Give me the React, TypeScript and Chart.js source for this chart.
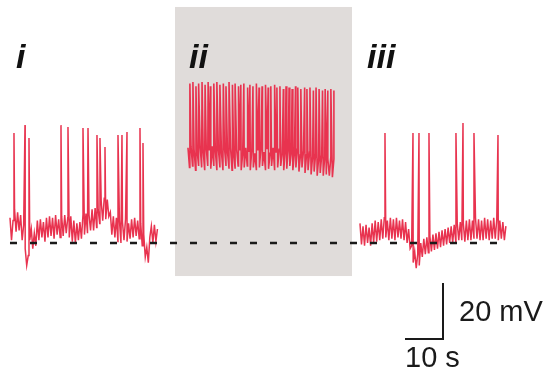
import React, { useEffect, useRef } from "react";
import { Chart, registerables } from "chart.js";

Chart.register(...registerables);

// ---- data (time in s, membrane potential in mV) ----
const SAMPLE_DT = 0.4;
const REST_MV = -60;

const traceIStart = 0;
const traceIBase = [
  -51, -59, -52,
  -48, -56, -49, -55.5, -50,
  -59, -53.5,
  -62, -68, -64.5, -59,
  -55, -62, -56.5, -61,
  -52, -59, -51.5, -58, -52.5, -59.5, -51,
  -58, -50.5, -57.5, -51, -58.5, -50, -57, -51.5, -58, -50.5,
  -57.5, -50, -56.5, -51, -58, -50.5,
  -59.5, -52, -60, -53, -59, -52.5, -58.5,
  -50, -57, -49.5, -56.5, -50, -55.5,
  -48, -55.5, -47.5, -54.5, -48, -53,
  -45, -52, -44, -51.5, -44.5, -50.5,
  -49, -57, -50.5, -58, -51,
  -59.5, -52, -60, -52.5, -59, -51.5, -59.5, -53, -58.5, -51.5, -58, -51, -57.5, -52, -58.5,
  -53, -61, -57, -65, -61.5, -67,
  -58, -54, -60, -53.5, -59.5, -55,
];
const traceISpikeTimes = [1.05, 3.95, 5.0, 13.42, 15.26, 19.21, 20.53, 22.89, 23.68, 25.0, 28.42, 29.47, 30.79, 34.21, 35.0];
const traceISpikePeaks = [-20.7, -17.9, -22.5, -17.9, -18.6, -18.9, -18.9, -21.4, -22.5, -25.7, -21.4, -21.4, -20.4, -18.9, -24.3];

const traceIIStart = 46.84;
const traceIIBase = [
  -26, -33, -25.5, -32.5, -26.5, -34, -27, -32.5, -25.5, -33,
  -27, -34, -26, -32.5, -27, -33.5, -25.5, -32.5, -27, -34,
  -26.5, -33, -27.5, -34, -26, -32.5, -27.5, -33.5, -26, -34,
  -27.5, -33.5, -26.5, -32.5, -27, -34, -28, -33, -26, -32.5,
  -27.5, -34, -26.5, -33, -28, -34, -27, -33, -26, -32.5,
  -27.5, -34, -26.5, -33.5, -28, -32.5, -26, -34, -27.5, -33,
  -26.5, -32.5, -28, -34, -27, -33.5, -26, -32.5, -27.5, -34,
  -28, -33, -26.5, -34.5, -28.5, -33, -27, -35, -28.5, -34,
  -27.5, -35.5, -29, -34.5, -28, -36, -29.5, -35, -28.5, -36,
  -29, -35.5, -30, -36, -29, -36.5, -30,
];
const traceIISpikeTimes = [
  0.5, 1.3, 2.1, 2.8, 3.7, 4.5, 5.3, 5.9, 6.8, 7.6,
  8.4, 9.3, 10.0, 10.8, 11.7, 12.4, 13.3, 13.9, 14.7, 15.7,
  16.3, 17.1, 18.0, 18.7, 19.5, 20.4, 21.1, 21.8, 22.8, 23.4,
  24.2, 25.1, 25.8, 26.6, 27.4, 28.3, 28.9, 29.7, 30.7, 31.3,
  32.1, 33.0, 33.7, 34.5, 35.4, 36.1, 36.8, 37.6, 38.4,
];
const traceIISpikePeaks = [
  -3, -2.5, -4, -3, -2.5, -3.5, -2.5, -4, -3, -2.5,
  -3.5, -3, -4, -2.5, -3.5, -3, -4, -3.5, -3, -4.5,
  -3.5, -4, -3, -4.5, -4, -3.5, -4.5, -4, -3.5, -4.5,
  -4, -5, -4, -4.5, -5, -4, -4.5, -5, -4.5, -5,
  -4.5, -5.5, -4.5, -5, -5.5, -5, -5.5, -5, -5.5,
];

const traceIIIStart = 92.1;
const traceIIIBase = [
  -53, -60.5, -54, -61, -53.5, -60, -54.5, -61, -53, -60,
  -52, -59.5, -52.5, -59, -51.5, -58.5, -51, -58, -52, -59,
  -51, -58.5, -51.5, -59, -51, -58, -52, -58.5, -51.5, -59,
  -52.5, -60, -55, -62, -61, -67, -63, -69, -64, -68,
  -60, -65, -58.5, -64, -58, -63.5, -57.5, -63, -57, -62.5,
  -56.5, -62, -56, -61.5, -55.5, -61, -55, -60.5, -54.5, -60,
  -54, -60, -53.5, -59.5, -53, -59, -52.5, -59, -53, -59.5,
  -52, -59, -51.5, -59, -52, -58.5, -51, -58.5, -51.5, -59,
  -52, -59, -51, -58.5, -51.5, -59, -52, -58.5, -51, -58.5,
  -51.5, -59, -52, -58.5, -52.5, -59, -54,
];
const traceIIISpikeTimes = [6.58, 13.95, 15.53, 18.16, 25.26, 27.11, 30.0, 36.32];
const traceIIISpikePeaks = [-20.7, -20.7, -20.7, -20.7, -20.7, -17.1, -20.7, -21.4];

const restLineTimes = [0, 130.3];
const restLineValues = [REST_MV, REST_MV];

const scaleBarTimes = [103.95, 113.95, 113.95];
const scaleBarValues = [-94.3, -94.3, -74.3];

const shadeTimes = [43.42, 90.0];
const shadeValues = [-71.8, 24.3];

const traceLabels = ["i", "ii", "iii"];
const scaleLabels = ["20 mV", "10 s"];

// ---- view window ----
const X_MIN = -2.63;
const X_MAX = 143.16;
const Y_MIN = -105.36;
const Y_MAX = 26.79;

function buildTrace(start: number, base: number[], spikeT: number[], spikeV: number[]) {
  const pts = base.map((v, i) => ({ x: start + i * SAMPLE_DT, y: v }));
  spikeT.forEach((t, i) => pts.push({ x: start + t, y: spikeV[i] }));
  pts.sort((a, b) => a.x - b.x);
  return pts;
}

const TRACE_COLOR = "#e8334f";

const overlayPlugin = {
  id: "overlay",
  beforeDatasetsDraw(chart: any) {
    const { ctx, scales } = chart;
    const x0 = scales.x.getPixelForValue(shadeTimes[0]);
    const x1 = scales.x.getPixelForValue(shadeTimes[1]);
    const y0 = scales.y.getPixelForValue(shadeValues[1]);
    const y1 = scales.y.getPixelForValue(shadeValues[0]);
    ctx.save();
    ctx.fillStyle = "#e0dcda";
    ctx.fillRect(x0, y0, x1 - x0, y1 - y0);
    ctx.restore();
  },
  afterDraw(chart: any) {
    const { ctx } = chart;
    ctx.save();
    ctx.fillStyle = "#111111";
    ctx.textBaseline = "alphabetic";
    ctx.font = 'italic bold 34px "Liberation Sans", Arial, sans-serif';
    const labelPos = [
      [16, 68],
      [189, 68],
      [367, 68],
    ];
    traceLabels.forEach((t, i) => ctx.fillText(t, labelPos[i][0], labelPos[i][1]));
    ctx.font = '29px "Liberation Sans", Arial, sans-serif';
    ctx.fillStyle = "#1a1a1a";
    ctx.fillText(scaleLabels[0], 459, 321);
    ctx.fillText(scaleLabels[1], 405, 367);
    ctx.restore();
  },
};

export default function App() {
  const ref = useRef<HTMLCanvasElement | null>(null);
  useEffect(() => {
    if (!ref.current) return;
    const traceDs = (data: any[], w: number) => ({
      data,
      borderColor: TRACE_COLOR,
      borderWidth: w,
      pointRadius: 0,
      tension: 0,
      order: 2,
    });
    const chart = new Chart(ref.current, {
      type: "line",
      data: {
        datasets: [
          {
            data: restLineTimes.map((t, i) => ({ x: t, y: restLineValues[i] })),
            borderColor: "#1a1a1a",
            borderWidth: 2.5,
            borderDash: [7, 13],
            pointRadius: 0,
            order: 0,
          },
          {
            data: scaleBarTimes.map((t, i) => ({ x: t, y: scaleBarValues[i] })),
            borderColor: "#1a1a1a",
            borderWidth: 2,
            pointRadius: 0,
            order: 0,
          },
          traceDs(buildTrace(traceIStart, traceIBase, traceISpikeTimes, traceISpikePeaks), 1.5),
          traceDs(buildTrace(traceIIStart, traceIIBase, traceIISpikeTimes, traceIISpikePeaks), 1.6),
          traceDs(buildTrace(traceIIIStart, traceIIIBase, traceIIISpikeTimes, traceIIISpikePeaks), 1.5),
        ],
      },
      options: {
        responsive: false,
        animation: false,
        layout: { padding: 0 },
        plugins: { legend: { display: false }, tooltip: { enabled: false } },
        scales: {
          x: { type: "linear", min: X_MIN, max: X_MAX, display: false },
          y: { type: "linear", min: Y_MIN, max: Y_MAX, display: false },
        },
      },
      plugins: [overlayPlugin],
    });
    return () => chart.destroy();
  }, []);
  return (
    <div style={{ position: "fixed", left: 0, top: 0, width: 554, height: 370, background: "#fff" }}>
      <canvas ref={ref} width={554} height={370} />
    </div>
  );
}
